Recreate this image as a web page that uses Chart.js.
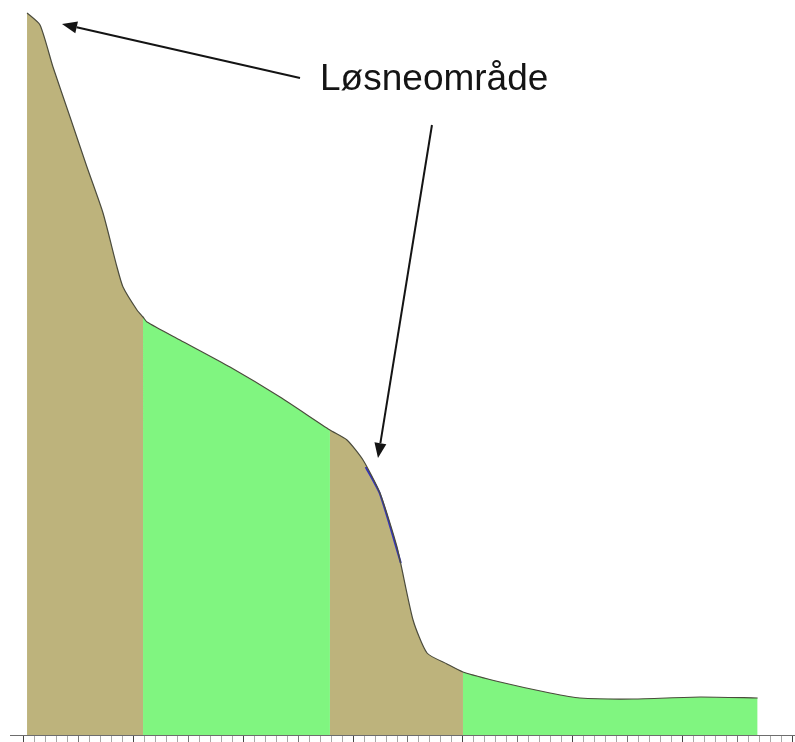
<!DOCTYPE html>
<html>
<head>
<meta charset="utf-8">
<script src="https://cdn.jsdelivr.net/npm/chart.js@4.4.1/dist/chart.umd.min.js"></script>
<style>
  html, body { margin: 0; padding: 0; background: #ffffff; }
  #wrap { width: 795px; height: 742px; position: relative; }
</style>
</head>
<body>
<div id="wrap"><canvas id="profil"></canvas></div>
<script>
// terrain profile, distance (m) and elevation (m)
var profileX = [3.5, 15.3, 27.1, 42.6, 58.0, 72.6, 85.3, 90.8, 103.5, 109, 112.6, 142.6, 188.1, 233.6, 279,
  294.5, 309.1, 324.5, 340.0, 354.6, 367.3, 385.5, 400, 433.7, 479.2, 506.4, 554.7, 615.6, 668];
var profileY = [722, 710, 668, 618, 568, 522, 468, 448, 425, 418, 413, 395, 368, 338, 305,
  295, 275, 242, 188, 115, 82, 71, 63, 53, 42, 37, 36, 38, 37];

// zone limits along the profile (m) and their colours
var zoneStart = [3.5, 109, 279, 400];
var zoneEnd = [109, 279, 400, 668];
var zoneColor = ['#bdb37c', '#80f580', '#bdb37c', '#80f580'];

// blue line drawn on the steep part
var blueX = [311.5, 324.5, 343.5];
var blueY = [268, 241, 172];

// annotation: label and arrows (start -> tip), in data units
var labelText = 'Løsneområde';
var labelPos = [270, 645];
var arrowFrom = [[251.8, 657], [371.8, 610]];
var arrowTo = [[35.3, 711], [322.7, 277]];

function toPoints(xs, ys) {
  var pts = [];
  for (var i = 0; i < xs.length; i++) {
    pts.push({x: xs[i], y: ys[i]});
  }
  return pts;
}

var datasets = [];

// outline first so it is drawn on top
datasets.push({
  data: toPoints(profileX, profileY),
  borderColor: '#4b4b3c',
  borderWidth: 1.2,
  pointRadius: 0,
  fill: false,
  tension: 0.2,
  order: 0
});

datasets.push({
  data: toPoints(blueX, blueY),
  borderColor: '#3434b8',
  borderWidth: 2,
  pointRadius: 0,
  fill: false,
  tension: 0.2,
  order: 0
});

for (var z = 0; z < zoneStart.length; z++) {
  var zx = [], zy = [];
  for (var i = 0; i < profileX.length; i++) {
    if (profileX[i] >= zoneStart[z] && profileX[i] <= zoneEnd[z]) {
      zx.push(profileX[i]);
      zy.push(profileY[i]);
    }
  }
  datasets.push({
    data: toPoints(zx, zy),
    borderWidth: 0,
    borderColor: zoneColor[z],
    backgroundColor: zoneColor[z],
    pointRadius: 0,
    fill: 'origin',
    tension: 0.2,
    order: 1
  });
}

// draws the label and the two arrows
var annotationPlugin = {
  id: 'annotation',
  afterDatasetsDraw: function (chart) {
    var ctx = chart.ctx;
    var xs = chart.scales.x, ys = chart.scales.y;
    ctx.save();
    ctx.fillStyle = '#141414';
    ctx.strokeStyle = '#141414';
    ctx.font = '37px "Liberation Sans", Arial, sans-serif';
    ctx.textBaseline = 'alphabetic';
    ctx.fillText(labelText, xs.getPixelForValue(labelPos[0]), ys.getPixelForValue(labelPos[1]));

    for (var a = 0; a < arrowFrom.length; a++) {
      var x1 = xs.getPixelForValue(arrowFrom[a][0]), y1 = ys.getPixelForValue(arrowFrom[a][1]);
      var x2 = xs.getPixelForValue(arrowTo[a][0]), y2 = ys.getPixelForValue(arrowTo[a][1]);
      var ang = Math.atan2(y2 - y1, x2 - x1);
      var headLen = 15, headW = 6;
      var bx = x2 - headLen * Math.cos(ang), by = y2 - headLen * Math.sin(ang);
      ctx.lineWidth = 2;
      ctx.beginPath();
      ctx.moveTo(x1, y1);
      ctx.lineTo(bx, by);
      ctx.stroke();
      ctx.beginPath();
      ctx.moveTo(x2, y2);
      ctx.lineTo(bx + headW * Math.sin(ang), by - headW * Math.cos(ang));
      ctx.lineTo(bx - headW * Math.sin(ang), by + headW * Math.cos(ang));
      ctx.closePath();
      ctx.fill();
    }
    ctx.restore();
  }
};

var chart = new Chart(document.getElementById('profil'), {
  type: 'line',
  data: { datasets: datasets },
  options: {
    responsive: true,
    maintainAspectRatio: false,
    animation: false,
    layout: { padding: { left: 10, right: 0, top: 0, bottom: 0 } },
    plugins: {
      legend: { display: false },
      tooltip: { enabled: false }
    },
    scales: {
      x: {
        type: 'linear',
        min: -12,
        max: 702,
        afterBuildTicks: function (scale) {
          var t = [];
          for (var v = 0; v <= 700; v += 10) {
            t.push({value: v});
          }
          scale.ticks = t;
        },
        ticks: { display: false },
        border: { display: true, color: '#6d6d6d', width: 1 },
        grid: {
          drawOnChartArea: false,
          drawTicks: true,
          tickLength: 7,
          tickColor: function (c) {
            var v = c.tick ? c.tick.value : 0;
            if (v % 100 === 0) return '#444444';
            if (v % 50 === 0) return '#777777';
            return '#a8a8a8';
          }
        }
      },
      y: {
        type: 'linear',
        display: false,
        min: 0,
        max: 735
      }
    }
  },
  plugins: [annotationPlugin]
});
</script>
</body>
</html>
